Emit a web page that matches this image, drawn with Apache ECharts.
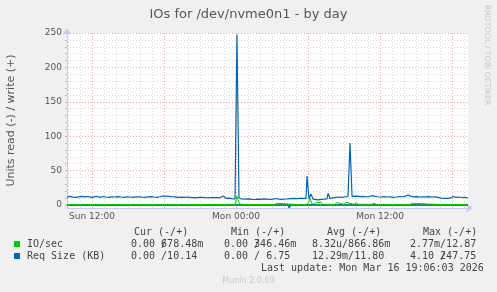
<!DOCTYPE html>
<html>
<head>
<meta charset="utf-8">
<script src="https://cdn.jsdelivr.net/npm/echarts@6/dist/echarts.min.js"></script>
<style>
html,body{margin:0;padding:0;background:#f0f0f0;}
#c{width:497px;height:292px;}
</style>
</head>
<body>
<div id="c"></div>
<script>
// x = hours relative to Mon 00:00
var xLabelHours = [-12, 0, 12];
var xLabelTexts = ['Sun 12:00', 'Mon 00:00', 'Mon 12:00'];
var yLabelValues = [0, 50, 100, 150, 200, 250];

// Req Size (KB), write (+)
var reqWrite = [
 [-14.08,11.2],[-13.83,12.6],[-13.58,11.5],[-13.33,11.0],[-13.08,11.9],[-12.83,12.6],[-12.58,11.9],[-12.33,12.3],
 [-12.08,11.2],[-11.83,11.9],[-11.58,12.4],[-11.33,11.0],[-11.08,12.3],[-10.83,11.6],[-10.58,11.2],[-10.33,11.9],
 [-10.08,11.6],[-9.83,12.3],[-9.58,11.6],[-9.33,11.2],[-9.08,11.9],[-8.83,11.6],[-8.58,11.2],[-8.33,11.9],
 [-8.08,12.0],[-7.83,11.4],[-7.58,11.0],[-7.33,11.9],[-7.08,12.3],[-6.83,11.6],[-6.58,11.2],[-6.33,12.0],
 [-6.08,13.1],[-5.83,12.9],[-5.58,12.6],[-5.33,12.0],[-5.08,11.9],[-4.83,11.0],[-4.58,11.4],[-4.33,11.2],
 [-4.08,11.6],[-3.83,11.2],[-3.58,10.8],[-3.33,10.4],[-3.08,11.0],[-2.83,11.2],[-2.58,10.6],[-2.33,10.4],
 [-2.08,10.9],[-1.83,10.6],[-1.58,10.8],[-1.33,10.4],[-1.08,13.0],[-0.83,9.7],[-0.58,10.1],[-0.33,9.4],
 [-0.08,9.0],[0.0,9.5],[0.08,247.75],[0.25,10.5],[0.42,9.0],[0.58,9.2],[0.83,8.6],[1.08,8.9],[1.33,8.3],
 [1.58,8.0],[1.83,8.6],[2.08,8.3],[2.33,9.0],[2.58,8.6],[2.83,8.3],[3.08,8.6],[3.33,9.4],[3.58,8.6],
 [3.83,8.3],[4.08,8.7],[4.33,9.0],[4.58,9.4],[4.83,9.7],[5.08,9.4],[5.33,9.7],[5.58,9.5],[5.83,9.7],
 [5.92,42.0],[6.08,9.0],[6.25,16.0],[6.42,8.5],[6.58,8.0],[6.83,7.5],[7.08,8.3],[7.33,8.6],[7.58,9.0],
 [7.67,17.0],[7.83,9.5],[8.08,10.4],[8.33,11.0],[8.58,11.6],[8.83,11.2],[9.08,12.0],[9.33,12.3],[9.42,11.9],
 [9.5,90.0],[9.67,12.6],[9.83,13.5],[10.08,13.0],[10.33,12.3],[10.58,12.6],[10.83,12.0],[11.08,12.3],
 [11.33,13.5],[11.58,12.6],[11.83,12.0],[12.08,11.6],[12.33,12.3],[12.58,11.6],[12.83,12.0],[13.08,11.2],
 [13.33,11.6],[13.58,12.3],[13.83,12.0],[14.08,12.6],[14.33,14.5],[14.58,12.6],[14.83,11.9],[15.08,12.3],
 [15.33,11.6],[15.58,12.0],[15.83,11.9],[16.08,12.3],[16.33,11.6],[16.58,11.9],[16.83,11.2],[17.08,10.0],
 [17.33,9.7],[17.58,9.7],[17.83,9.9],[18.08,12.3],[18.33,11.2],[18.58,11.6],[18.83,10.9],[19.08,11.2],[19.33,10.14]
];
// Req Size (KB), read (-)
var reqRead = [[-14.08,0],[4.33,0],[4.42,-4.1],[4.58,0],[19.33,0]];

// IO/sec, write (+)
var ioWrite = [
 [-14.08,0.7],[-13.5,0.8],[-12.67,0.8],[-12.58,2.6],[-12.42,0.8],[-11.58,0.8],[-11.5,2.4],[-11.33,0.7],
 [-10,0.8],[-8,0.7],[-6,0.8],[-4,0.7],[-2,0.8],[-0.08,0.8],[0.08,12.87],[0.25,3.0],[0.42,0.9],
 [1.5,0.7],[3.25,0.7],[3.42,2.5],[3.58,0.8],[5.0,0.7],[5.92,0.8],[6.08,5.0],[6.17,9.5],[6.33,2.0],
 [6.5,1.0],[6.67,3.5],[6.83,1.0],[7.08,3.8],[7.25,1.0],[7.75,1.0],[7.83,3.5],[8.0,1.0],[8.25,1.0],
 [8.42,3.5],[8.58,1.0],[9.0,1.0],[9.17,3.8],[9.33,1.0],[9.83,1.0],[10.0,3.2],[10.17,1.0],[11.33,1.0],
 [11.5,2.6],[11.67,0.9],[14.5,0.8],[14.67,2.5],[14.83,0.8],[17,0.7],[19.33,0.68]
];
// IO/sec, read (-)
var ioRead = [[-14.08,0],[19.33,0]];

var xMin = -14.08, xMax = 19.33;
var minorX = [], majorX = [], minorY = [], majorY = [];
for (var h = -14; h <= 19; h++) { if (h % 6 === 0) majorX.push(h); else minorX.push(h); }
for (var v = 10; v <= 250; v += 10) { if (v % 50 === 0) majorY.push(v); else minorY.push(v); }

var gridLines = [];
minorX.forEach(function (x) { gridLines.push({ xAxis: x, lineStyle: { color: '#d8d8d8', type: [1, 2], width: 1 } }); });
minorY.forEach(function (y) { gridLines.push({ yAxis: y, lineStyle: { color: '#d8d8d8', type: [1, 2], width: 1 } }); });
majorX.forEach(function (x) { gridLines.push({ xAxis: x, lineStyle: { color: '#f4a0a0', type: [1, 2], width: 1 } }); });
majorY.forEach(function (y) { gridLines.push({ yAxis: y, lineStyle: { color: '#f4a0a0', type: [1, 2], width: 1 } }); });

var chart = echarts.init(document.getElementById('c'), null, { renderer: 'canvas' });
var mono = '"DejaVu Sans Mono", monospace';
var sans = '"DejaVu Sans", sans-serif';
var legendColor = '#444';
function t(x, y, s, opt) {
  opt = opt || {};
  return { type: 'text', x: x, y: y, silent: true, z: 10,
    style: { text: s, fill: opt.fill || legendColor, font: (opt.size || 10) + 'px ' + (opt.fam || mono),
      textAlign: opt.align || 'left', textVerticalAlign: 'middle' } };
}

chart.setOption({
  animation: false,
  backgroundColor: '#f0f0f0',
  title: {
    text: 'IOs for /dev/nvme0n1 - by day', left: 'center', top: 3,
    textStyle: { fontFamily: sans, fontSize: 13, fontWeight: 'normal', color: '#555' }
  },
  grid: { left: 67, top: 33, width: 401, height: 175, backgroundColor: '#ffffff', show: true, borderWidth: 0, containLabel: false, outerBoundsMode: 'none' },
  xAxis: {
    type: 'value', min: xMin, max: xMax,
    splitLine: { show: false },
    axisLine: { show: true, onZero: false, lineStyle: { color: '#c5cdf5', width: 1 }, symbol: ['none', 'arrow'], symbolSize: [7, 7], symbolOffset: [0, 5] },
    axisTick: { show: false },
    axisLabel: {
      customValues: xLabelHours, margin: 4, color: '#555', fontFamily: sans, fontSize: 9,
      formatter: function (val) { var i = xLabelHours.indexOf(val); return i >= 0 ? xLabelTexts[i] : ''; }
    }
  },
  yAxis: {
    type: 'value', min: -4.36, max: 250,
    name: 'Units read (-) / write (+)', nameLocation: 'middle', nameGap: 50, nameRotate: 90,
    nameTextStyle: { fontFamily: sans, fontSize: 11, color: '#555' },
    splitLine: { show: false },
    axisLine: { show: true, onZero: false, lineStyle: { color: '#c5cdf5', width: 1 }, symbol: ['none', 'arrow'], symbolSize: [7, 7], symbolOffset: [0, 5] },
    axisTick: { show: true, customValues: minorY.concat(majorY).concat([0]), length: 2, inside: false, lineStyle: { color: '#bbb' } },
    axisLabel: { customValues: yLabelValues, margin: 5, color: '#555', fontFamily: sans, fontSize: 9 }
  },
  series: [
    { type: 'line', name: 'gridlines', data: [[xMin, 0]], showSymbol: false, silent: true, z: 1,
      lineStyle: { opacity: 0 },
      markLine: { z: 1, silent: true, symbol: ['none', 'none'], label: { show: false }, animation: false, data: gridLines } },
    { type: 'line', name: 'ioRead', data: ioRead, showSymbol: false, z: 3, lineStyle: { color: '#00cc00', width: 1.5 },
      markLine: { z: 3, silent: true, symbol: ['none', 'none'], label: { show: false }, animation: false,
        data: [{ yAxis: 0, lineStyle: { color: '#000', type: [1, 1], width: 1.5 } }] } },
    { type: 'line', name: 'reqRead', data: reqRead, showSymbol: false, z: 4, lineStyle: { color: '#0066b3', width: 1.2 } },
    { type: 'line', name: 'reqWrite', data: reqWrite, showSymbol: false, z: 4, lineStyle: { color: '#0066b3', width: 1.2 } },
    { type: 'line', name: 'ioWrite', data: ioWrite, showSymbol: false, z: 5, lineStyle: { color: '#00cc00', width: 1 } }
  ],
  graphic: [
    { type: 'text', silent: true, x: 487, y: 5, rotation: -Math.PI / 2,
      style: { text: 'RRDTOOL / TOBI OETIKER', fill: '#c8c8c8', font: '7.8px ' + sans, textAlign: 'left', textVerticalAlign: 'middle' } },
    t(134, 232.5, 'Cur (-/+)'), t(231, 232.5, 'Min (-/+)'), t(327, 232.5, 'Avg (-/+)'), t(423, 232.5, 'Max (-/+)'),
    { type: 'rect', silent: true, shape: { x: 14, y: 241, width: 6, height: 6 }, style: { fill: '#00cc00' } },
    { type: 'rect', silent: true, shape: { x: 14, y: 253, width: 6, height: 6 }, style: { fill: '#0066b3' } },
    t(27, 244.5, 'IO/sec'), t(27, 256.5, 'Req Size (KB)'),
    t(131, 244.5, '0.00 678.48m'), t(161, 244.5, '/'),
    t(224, 244.5, '0.00 346.46m'), t(254, 244.5, '/'),
    t(312, 244.5, '8.32u/866.86m'),
    t(410, 244.5, '2.77m/12.87'),
    t(131, 256.5, '0.00 /10.14'),
    t(224, 256.5, '0.00 / 6.75'),
    t(312, 256.5, '12.29m/11.80'),
    t(410, 256.5, '4.10 247.75'), t(440, 256.5, '/'),
    t(261, 268.5, 'Last update: Mon Mar 16 19:06:03 2026'),
    t(248.5, 281, 'Munin 2.0.69', { fill: '#c8c8c8', size: 8, fam: sans, align: 'center' })
  ]
});
</script>
</body>
</html>
